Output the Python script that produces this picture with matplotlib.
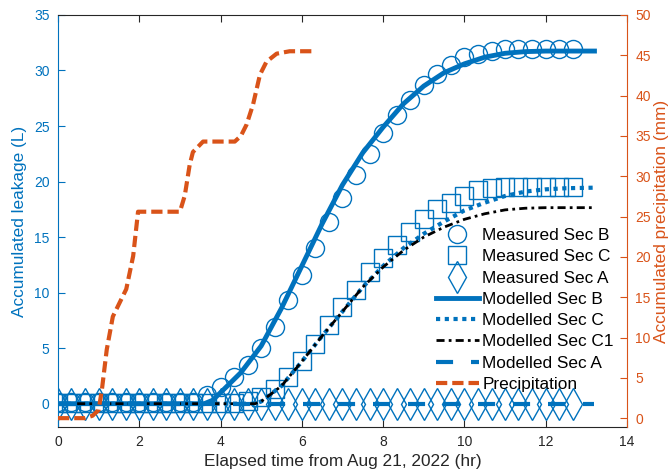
import matplotlib
matplotlib.use('Agg')
import matplotlib.pyplot as plt

plt.rcParams['font.family'] = ['Liberation Sans', 'DejaVu Sans']

blue = '#0072BD'
orange = '#D95319'
dark = '#262626'

# measurement times (hr), every 20 min
t_meas = [0, 0.33, 0.67, 1.0, 1.33, 1.67, 2.0, 2.33, 2.67, 3.0, 3.33, 3.67, 4.0,
          4.33, 4.67, 5.0, 5.33, 5.67, 6.0, 6.33, 6.67, 7.0, 7.33, 7.67, 8.0,
          8.33, 8.67, 9.0, 9.33, 9.67, 10.0, 10.33, 10.67, 11.0, 11.33, 11.67,
          12.0, 12.33, 12.67]

meas_b = [0.15, 0.15, 0.15, 0.15, 0.15, 0.15, 0.15, 0.15, 0.15, 0.15, 0.15,
          0.8, 1.5, 2.4, 3.5, 5.0, 6.9, 9.3, 11.6, 14.0, 16.4, 18.5, 20.6,
          22.5, 24.4, 26.0, 27.3, 28.7, 29.7, 30.5, 31.2, 31.5, 31.8,
          31.9, 31.9, 31.9, 31.9, 31.9, 31.9]

meas_c = [0.1, 0.1, 0.1, 0.1, 0.1, 0.1, 0.1, 0.1, 0.1, 0.1, 0.1, 0.1, 0.1, 0.1,
          0.2, 0.6, 1.3, 2.4, 3.8, 5.4, 7.1, 8.7, 10.2, 11.9, 13.1, 14.3, 15.5,
          16.6, 17.5, 18.1, 18.7, 19.2, 19.4, 19.5, 19.5, 19.5, 19.5, 19.5, 19.5]

meas_a = [0] * 39

# modelled curves
t_mod_b = [0, 3.6, 3.8, 4.0, 4.5, 5.0, 5.5, 6.0, 6.5, 7.0, 7.5, 8.0, 8.5, 9.0,
           9.5, 10.0, 10.5, 11.0, 11.5, 12.0, 13.2]
mod_b = [0, 0, 0.3, 1.0, 2.8, 5.2, 8.6, 12.4, 16.2, 19.7, 22.6, 24.9, 27.0,
         28.6, 29.8, 30.6, 31.2, 31.55, 31.7, 31.75, 31.75]

t_mod_c = [0, 4.85, 5.0, 5.5, 6.0, 6.5, 7.0, 7.5, 8.0, 8.5, 9.0, 9.5, 10.0,
           10.5, 11.0, 11.5, 12.0, 12.5, 13.2]
mod_c = [0, 0, 0.2, 1.6, 3.8, 6.1, 8.3, 10.5, 12.4, 14.0, 15.3, 16.4, 17.4,
         18.1, 18.7, 19.1, 19.3, 19.4, 19.45]
mod_c1 = [0, 0, 0.2, 1.6, 3.8, 6.1, 8.3, 10.5, 12.3, 13.8, 15.0, 15.9, 16.6,
          17.1, 17.45, 17.6, 17.65, 17.65, 17.65]

t_mod_a = [0, 13.2]
mod_a = [0, 0]

# accumulated precipitation (mm)
t_rain = [0, 0.66, 0.85, 1.0, 1.08, 1.2, 1.35, 1.68, 1.85, 1.97, 3.0, 3.12,
          3.24, 3.32, 3.57, 4.35, 4.5, 4.64, 4.8, 4.97, 5.13, 5.38, 5.7, 6.32]
rain = [0, 0, 0.3, 1.0, 3.5, 8.5, 12.6, 16.0, 20.1, 25.6, 25.6, 27.6, 31.4,
        33.0, 34.3, 34.3, 35.0, 36.4, 38.9, 42.6, 44.2, 45.2, 45.5, 45.5]

fig = plt.figure(figsize=(6.71, 4.72), dpi=100)
ax = fig.add_axes([0.0864, 0.0953, 0.848, 0.873])
ax2 = ax.twinx()

h1, = ax.plot(t_meas, meas_b, 'o', ms=13, mfc='none', mec=blue, mew=1.0,
              label='Measured Sec B')
h2, = ax.plot(t_meas, meas_c, 's', ms=13, mfc='none', mec=blue, mew=1.0,
              label='Measured Sec C')
h3, = ax.plot(t_meas, meas_a, 'd', ms=16, mfc='none', mec=blue, mew=1.0,
              label='Measured Sec A')
h4, = ax.plot(t_mod_b, mod_b, '-', color=blue, lw=3.5, label='Modelled Sec B')
h5, = ax.plot(t_mod_c, mod_c, color=blue, lw=3, dashes=(1, 1.1),
              label='Modelled Sec C')
h6, = ax.plot(t_mod_c, mod_c1, color='black', lw=2, dashes=(2.9, 1.5, 1, 1.5),
              label='Modelled Sec C1')
h7, = ax.plot(t_mod_a, mod_a, color=blue, lw=3, dashes=(4.1, 4.3),
              label='Modelled Sec A')
h8, = ax2.plot(t_rain, rain, color=orange, lw=3, dashes=(2.7, 1.2),
               label='Precipitation')

ax.set_xlim(0, 14)
ax.set_ylim(-2.1, 35)
ax2.set_ylim(-1.1, 50)
ax.set_xticks(range(0, 15, 2))
ax.set_yticks(range(0, 36, 5))
ax2.set_yticks(range(0, 51, 5))

ax.tick_params(axis='x', direction='in', top=True, length=5, colors=dark,
               labelsize=10, pad=6)
ax.tick_params(axis='y', direction='in', length=5, colors=blue, labelsize=10,
               pad=6)
ax2.tick_params(axis='y', direction='in', length=5, colors=orange,
                labelsize=10, pad=6)

for s in ['top', 'bottom']:
    ax.spines[s].set_color(dark)
ax.spines['left'].set_color(blue)
ax.spines['right'].set_visible(False)
ax2.spines['left'].set_visible(False)
ax2.spines['top'].set_visible(False)
ax2.spines['bottom'].set_visible(False)
ax2.spines['right'].set_color(orange)

ax.set_xlabel('Elapsed time from Aug 21, 2022 (hr)', fontsize=12.4, color=dark,
              labelpad=3)
ax.set_ylabel('Accumulated leakage (L)', fontsize=12.4, color=blue, labelpad=5)
ax2.set_ylabel('Accumulated precipitation (mm)', fontsize=12.4, color=orange,
               labelpad=2)

ax2.legend(handles=[h1, h2, h3, h4, h5, h6, h7, h8], loc='lower right',
           bbox_to_anchor=(0.977, 0.085), frameon=False, fontsize=12.4,
           handlelength=2.5, handletextpad=0.2, labelspacing=0.36,
           borderpad=0, borderaxespad=0)

fig.savefig('out.png', dpi=100)
